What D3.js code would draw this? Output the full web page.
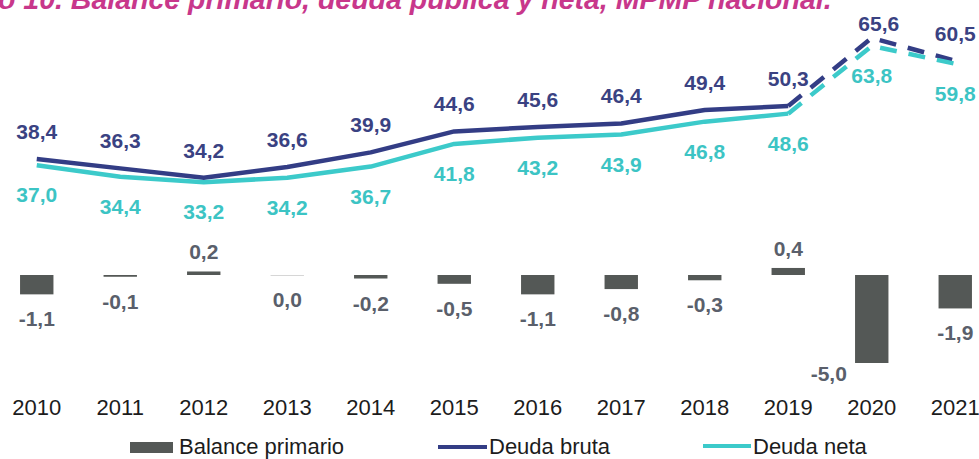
<!DOCTYPE html>
<html>
<head>
  <meta charset="utf-8">
  <title>Balance primario, deuda pública y neta</title>
  <style>
    body { margin: 0; background: #fff; }
    svg { display: block; font-family: "Liberation Sans", Arial, sans-serif; }
  </style>
</head>
<body>
  <svg width="979" height="459"></svg>

  <script src="https://cdnjs.cloudflare.com/ajax/libs/d3/7.8.5/d3.min.js"></script>
  <script>
    // data (% del PIB)
    var years = ['2010', '2011', '2012', '2013', '2014', '2015', '2016', '2017', '2018', '2019', '2020', '2021'];
    var balancePrimario = [-1.1, -0.1, 0.2, 0.0, -0.2, -0.5, -1.1, -0.8, -0.3, 0.4, -5.0, -1.9];
    var deudaBruta = [38.4, 36.3, 34.2, 36.6, 39.9, 44.6, 45.6, 46.4, 49.4, 50.3, 65.6, 60.5];
    var deudaNeta = [37.0, 34.4, 33.2, 34.2, 36.7, 41.8, 43.2, 43.9, 46.8, 48.6, 63.8, 59.8];
    // from this year on the lines are drawn dashed (projection)
    var firstDashedYear = '2019';

    var title = 'Gráfico 10. Balance primario, deuda pública y neta, MPMP nacional.';

    var colors = {
      bar: '#545856',
      barLabel: '#5a5f6b',
      bruta: '#333d85',
      brutaLabel: '#3a4282',
      neta: '#3ccaca',
      netaLabel: '#3cc4c4',
      title: '#c8378b',
      text: '#1c1c1c'
    };

    // spanish decimal comma, plain hyphen for negatives
    var fmt = function(v) { return d3.format('.1f')(v).replace('.', ',').replace('\u2212', '-'); };

    var svg = d3.select('svg');

    // shared category axis
    var x = d3.scaleBand()
      .domain(years)
      .range([-5, 997])
      .paddingInner(0.6)
      .paddingOuter(0.3);
    var cx = function(year) { return x(year) + x.bandwidth() / 2; };

    // bars and lines sit on separate (hidden) value axes
    var yBar = d3.scaleLinear().domain([-6, 1]).range([380.6, 257.4]);
    var yLine = d3.scaleLinear().domain([0, 70]).range([329.9, 18.4]);

    // title, partly cut by the top edge
    var titleText = svg.append('text')
      .attr('y', 9)
      .attr('fill', colors.title)
      .style('font-size', '28.5px')
      .style('font-weight', 'bold')
      .style('font-style', 'italic')
      .text(title);
    // shift so that "o 10." starts at the left edge
    var cut = titleText.node().getSubStringLength(0, 6);
    titleText.attr('x', -cut - 2);

    // ---- bars: Balance primario
    var barData = years.map(function(y, i) { return { year: y, value: balancePrimario[i] }; });

    svg.append('g').selectAll('rect')
      .data(barData)
      .enter().append('rect')
      .attr('x', function(d) { return x(d.year); })
      .attr('width', x.bandwidth())
      .attr('y', function(d) { return Math.min(yBar(d.value), yBar(0)); })
      .attr('height', function(d) { return Math.max(1, Math.abs(yBar(d.value) - yBar(0))); })
      .attr('fill', function(d) { return d.value === 0 ? '#d6d6d6' : colors.bar; });

    svg.append('g').selectAll('text')
      .data(barData)
      .enter().append('text')
      .attr('x', function(d) { return d.year === '2020' ? cx(d.year) - 43 : cx(d.year); })
      .attr('y', function(d) {
        if (d.year === '2020') return yBar(d.value) + 18;
        return d.value > 0 ? yBar(d.value) - 12 : yBar(Math.min(d.value, 0)) + 32;
      })
      .attr('text-anchor', 'middle')
      .attr('fill', colors.barLabel)
      .style('font-size', '21px')
      .style('font-weight', 'bold')
      .text(function(d) { return fmt(d.value); });

    // ---- lines: Deuda bruta / Deuda neta
    var cutIdx = years.indexOf(firstDashedYear);
    var line = d3.line()
      .x(function(d) { return cx(d.year); })
      .y(function(d) { return yLine(d.value); });

    function drawSeries(values, color) {
      var pts = years.map(function(y, i) { return { year: y, value: values[i] }; });
      var g = svg.append('g')
        .attr('fill', 'none')
        .attr('stroke', color)
        .attr('stroke-width', 4.5)
        .attr('stroke-linejoin', 'round');
      g.append('path').attr('d', line(pts.slice(0, cutIdx + 1)));
      g.append('path')
        .attr('d', line(pts.slice(cutIdx)))
        .attr('stroke-dasharray', '17,12');
      return pts;
    }

    var brutaPts = drawSeries(deudaBruta, colors.bruta);
    var netaPts = drawSeries(deudaNeta, colors.neta);

    svg.append('g').selectAll('text')
      .data(brutaPts)
      .enter().append('text')
      .attr('x', function(d) { return d.year === '2020' ? cx(d.year) + 7 : cx(d.year); })
      .attr('y', function(d) { return d.year === '2020' ? yLine(d.value) - 7 : yLine(d.value) - 20; })
      .attr('text-anchor', 'middle')
      .attr('fill', colors.brutaLabel)
      .style('font-size', '21px')
      .style('font-weight', 'bold')
      .text(function(d) { return fmt(d.value); });

    svg.append('g').selectAll('text')
      .data(netaPts)
      .enter().append('text')
      .attr('x', function(d) { return cx(d.year); })
      .attr('y', function(d) { return yLine(d.value) + 37; })
      .attr('text-anchor', 'middle')
      .attr('fill', colors.netaLabel)
      .style('font-size', '21px')
      .style('font-weight', 'bold')
      .text(function(d) { return fmt(d.value); });

    // ---- category axis labels (no axis line)
    var xAxis = svg.append('g')
      .attr('transform', 'translate(0,399)')
      .call(d3.axisBottom(x).tickSize(0).tickPadding(0));
    xAxis.select('.domain').remove();
    xAxis.selectAll('text')
      .attr('dy', '0.71em')
      .attr('fill', colors.text)
      .style('font-size', '22px')
      .style('font-family', '"Liberation Sans", Arial, sans-serif');

    // ---- legend
    var legend = svg.append('g').style('font-size', '22px').attr('fill', colors.text);

    legend.append('rect').attr('x', 130).attr('y', 442).attr('width', 43).attr('height', 11).attr('fill', colors.bar);
    legend.append('text').attr('x', 179).attr('y', 454).text('Balance primario');

    legend.append('line').attr('x1', 438).attr('x2', 487).attr('y1', 447).attr('y2', 447)
      .attr('stroke', colors.bruta).attr('stroke-width', 4);
    legend.append('text').attr('x', 489).attr('y', 454).text('Deuda bruta');

    legend.append('line').attr('x1', 703).attr('x2', 751).attr('y1', 446).attr('y2', 446)
      .attr('stroke', colors.neta).attr('stroke-width', 4);
    legend.append('text').attr('x', 753).attr('y', 454).text('Deuda neta');
  </script>
</body>
</html>
